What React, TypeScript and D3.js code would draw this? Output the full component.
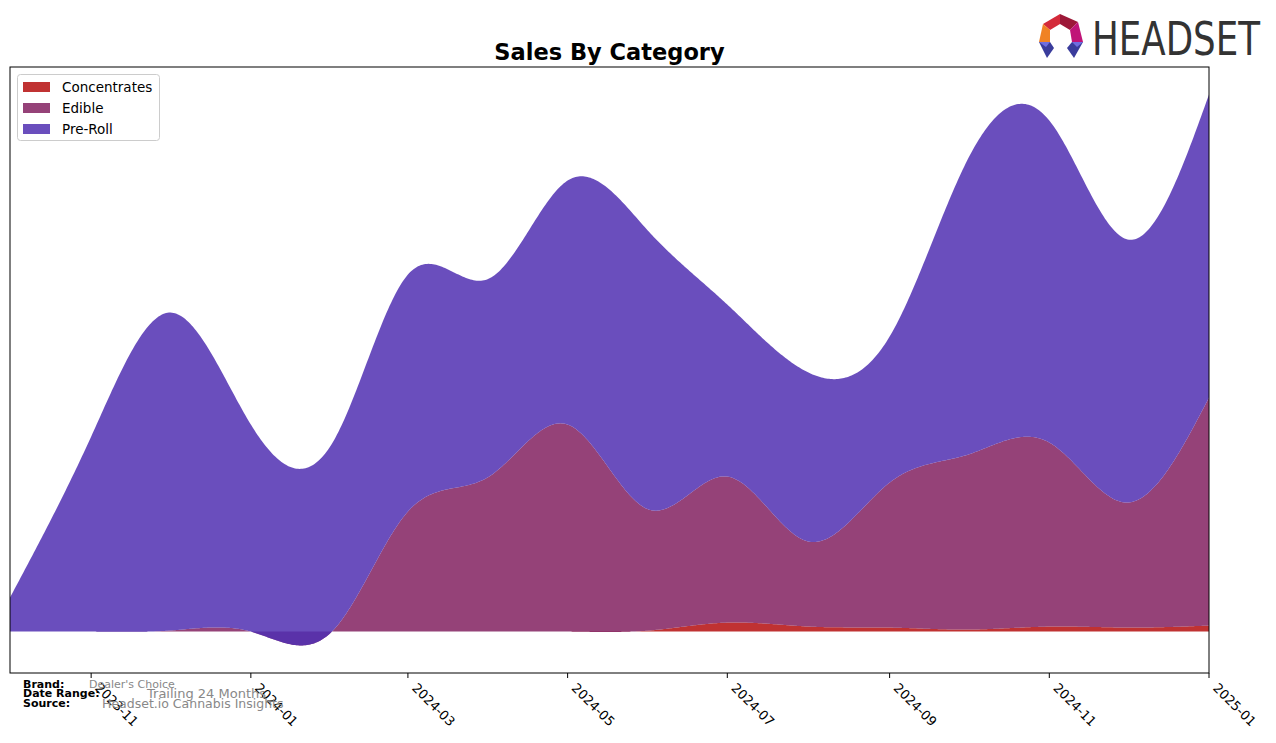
import React from "react";
import * as d3 from "d3";

const months = [
  "2023-10", "2023-11", "2023-12", "2024-01", "2024-02", "2024-03", "2024-04", "2024-05",
  "2024-06", "2024-07", "2024-08", "2024-09", "2024-10", "2024-11", "2024-12", "2025-01",
];
const concentrates = [0, 0, 0, 0, 0, 0, 0, 0, 1, 9, 5, 4, 2, 5, 4, 6];
const edible = [0, 0, 1, 0, 0, 120, 155, 207, 121, 146, 85, 145, 175, 184, 125, 228];
const preRoll = [34, 195, 318, 207, 188, 237, 198, 244, 278, 172, 169, 146, 296, 322, 263, 303];
const seriesNames = ["Concentrates", "Edible", "Pre-Roll"];
const seriesColors = ["#B50E0E", "#832160", "#502FB2"];
const tickMonths = ["2023-11", "2024-01", "2024-03", "2024-05", "2024-07", "2024-09", "2024-11", "2025-01"];

const W = 1276, H = 743;
const L = 10, R = 1209, T = 67, B = 673;

function naturalSpline(xs: number[], ys: number[]) {
  const n = xs.length;
  const h: number[] = [];
  for (let i = 0; i < n - 1; i++) h.push(xs[i + 1] - xs[i]);
  const M = new Array(n).fill(0);
  const a: number[] = new Array(n).fill(0), b: number[] = new Array(n).fill(1), c: number[] = new Array(n).fill(0), d: number[] = new Array(n).fill(0);
  for (let i = 1; i < n - 1; i++) {
    a[i] = h[i - 1];
    b[i] = 2 * (h[i - 1] + h[i]);
    c[i] = h[i];
    d[i] = 6 * ((ys[i + 1] - ys[i]) / h[i] - (ys[i] - ys[i - 1]) / h[i - 1]);
  }
  const cp = new Array(n).fill(0), dp = new Array(n).fill(0);
  cp[0] = c[0] / b[0]; dp[0] = d[0] / b[0];
  for (let i = 1; i < n; i++) {
    const m = b[i] - a[i] * cp[i - 1];
    cp[i] = c[i] / m;
    dp[i] = (d[i] - a[i] * dp[i - 1]) / m;
  }
  M[n - 1] = dp[n - 1];
  for (let i = n - 2; i >= 0; i--) M[i] = dp[i] - cp[i] * M[i + 1];
  return (x: number) => {
    let i = 0;
    while (i < n - 2 && x > xs[i + 1]) i++;
    const hi = h[i];
    const A = xs[i + 1] - x, Bx = x - xs[i];
    return (
      (M[i] * A * A * A) / (6 * hi) +
      (M[i + 1] * Bx * Bx * Bx) / (6 * hi) +
      (ys[i] / hi - (M[i] * hi) / 6) * A +
      (ys[i + 1] / hi - (M[i + 1] * hi) / 6) * Bx
    );
  };
}

export default function App() {
  const parse = d3.utcParse("%Y-%m");
  const dates = months.map((m) => parse(m) as Date);
  const x = d3.scaleUtc().domain([dates[0], dates[dates.length - 1]]).range([L, R]);
  const xs = dates.map((dt) => x(dt));

  const fC = naturalSpline(xs, concentrates);
  const fE = naturalSpline(xs, edible);
  const fP = naturalSpline(xs, preRoll);

  const samples: { px: number; c: number; e: number; p: number }[] = [];
  for (let px = L; px <= R + 0.001; px += 1.5) {
    const pp = Math.min(px, R);
    samples.push({ px: pp, c: fC(pp), e: fE(pp), p: fP(pp) });
  }
  samples.push({ px: R, c: fC(R), e: fE(R), p: fP(R) });
  const layers = samples.map((s) => ({
    px: s.px,
    b0: 0, t0: s.c,
    b1: s.c, t1: s.c + s.e,
    b2: s.c + s.e, t2: s.c + s.e + s.p,
  }));
  let lo = 0, hi = 0;
  layers.forEach((l) => {
    lo = Math.min(lo, l.t0, l.t1, l.t2);
    hi = Math.max(hi, l.t0, l.t1, l.t2);
  });
  const span = hi - lo;
  const y = d3.scaleLinear().domain([lo - 0.05 * span, hi + 0.05 * span]).range([B, T]);

  const keys: [string, string][] = [["b0", "t0"], ["b1", "t1"], ["b2", "t2"]];
  const paths = keys.map(([bk, tk]) =>
    d3.area<any>()
      .x((d) => d.px)
      .y0((d) => y(d[bk]))
      .y1((d) => y(d[tk]))
      .curve(d3.curveLinear)(layers) as string
  );

  const fmt = d3.utcFormat("%Y-%m");
  const ticks = tickMonths.map((m) => parse(m) as Date);

  return (
    <svg width={W} height={H} style={{ position: "absolute", left: 0, top: 0, background: "#fff" }}
      fontFamily="DejaVu Sans, sans-serif">
      <rect x={0} y={0} width={W} height={H} fill="#fff" />
      <defs>
        <clipPath id="plotclip"><rect x={L} y={T} width={R - L} height={B - T} /></clipPath>
      </defs>
      <g clipPath="url(#plotclip)">
        {paths.map((p, i) => (
          <path key={i} d={p} fill={seriesColors[i]} fillOpacity={0.85} stroke="none" />
        ))}
      </g>
      <rect x={L} y={T} width={R - L} height={B - T} fill="none" stroke="#000" strokeWidth={1} />
      {ticks.map((t, i) => {
        const tx = x(t);
        const ax = tx + 10, ay = B + 9;
        return (
          <g key={i}>
            <line x1={tx} x2={tx} y1={B} y2={B + 5} stroke="#000" strokeWidth={1} />
            <text x={ax} y={ay} fontSize={13} fill="#000" dominantBaseline="hanging"
              transform={`rotate(45 ${ax} ${ay})`}>{fmt(t)}</text>
          </g>
        );
      })}
      <text x={(L + R) / 2} y={60} textAnchor="middle" fontSize={22.5} fontWeight="bold" fill="#000">Sales By Category</text>

      <g>
        <rect x={17.5} y={74.5} width={142} height={66} rx={3} fill="#fff" fillOpacity={0.8} stroke="#ccc" />
        {seriesNames.map((n, i) => (
          <g key={n}>
            <rect x={23} y={82 + i * 21} width={27} height={10} fill={seriesColors[i]} fillOpacity={0.85} />
            <text x={62} y={92 + i * 21} fontSize={13.5} fill="#000">{n}</text>
          </g>
        ))}
      </g>

      <g fontSize={11}>
        <text x={23} y={688} fontWeight="bold" fill="#000">Brand:</text>
        <text x={23} y={697} fontWeight="bold" fill="#000">Date Range:</text>
        <text x={23} y={707} fontWeight="bold" fill="#000">Source:</text>
        <text x={89} y={688} fill="#888">Dealer's Choice</text>
        <text x={147} y={698} fontSize={13} fill="#888">Trailing 24 Months</text>
        <text x={102} y={708} fontSize={12.5} fill="#888">Headset.io Cannabis Insights</text>
      </g>

      <g>
        <polygon points="1043,24 1060,14 1060,24 1050,30" fill="#d42a3a" />
        <polygon points="1060,14 1078,22 1070,30 1060,24" fill="#9c1838" />
        <polygon points="1043,24 1050,30 1050,42 1039,42" fill="#f08224" />
        <polygon points="1078,22 1083,42 1072,42 1070,30" fill="#c01478" />
        <polygon points="1039,42 1050,42 1054,48 1047,58" fill="#3a3c9c" />
        <polygon points="1039,42 1050,42 1046,47" fill="#6f6ee0" />
        <polygon points="1072,42 1083,42 1074,58 1067,48" fill="#3a3c9c" />
        <polygon points="1072,42 1083,42 1077,47" fill="#6f6ee0" />
        <text x={1092} y={55} fontSize={46} fill="#333" textLength={168} lengthAdjust="spacingAndGlyphs"
          fontFamily="DejaVu Sans Condensed, DejaVu Sans, sans-serif">HEADSET</text>
      </g>
    </svg>
  );
}
